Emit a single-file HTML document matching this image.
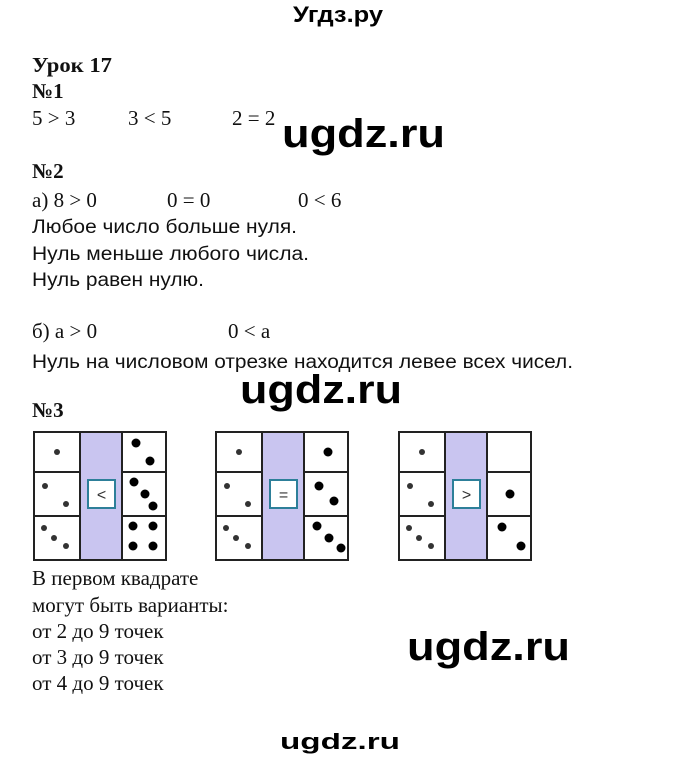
<!DOCTYPE html>
<html><head><meta charset="utf-8"><style>
html,body{margin:0;padding:0;background:#fff;}
svg{display:block}
.s{font-family:"Liberation Serif",serif;font-size:21px;fill:#111}
.b{font-family:"Liberation Serif",serif;font-size:21px;font-weight:bold;fill:#111}
.a{font-family:"Liberation Sans",sans-serif;font-size:19px;fill:#111}
.w{font-family:"Liberation Sans",sans-serif;font-weight:bold;fill:#000}
</style></head><body>
<svg width="680" height="759" viewBox="0 0 680 759" xmlns="http://www.w3.org/2000/svg">
<text x="293" y="22" class="w" font-size="22" textLength="90" lengthAdjust="spacingAndGlyphs">Угдз.ру</text>
<text x="32" y="72" class="b" textLength="80" lengthAdjust="spacingAndGlyphs">Урок 17</text>
<text x="32" y="98" class="b">№1</text>
<text x="32" y="125" class="s">5 &gt; 3</text>
<text x="128" y="125" class="s">3 &lt;  5</text>
<text x="232" y="125" class="s">2 = 2</text>
<text x="282" y="147" class="w" font-size="40" textLength="163" lengthAdjust="spacingAndGlyphs">ugdz.ru</text>
<text x="32" y="178" class="b">№2</text>
<text x="32" y="207" class="s">а) 8 &gt; 0</text>
<text x="167" y="207" class="s">0 = 0</text>
<text x="298" y="207" class="s">0 &lt; 6</text>
<text x="32" y="233" class="a" textLength="265" lengthAdjust="spacingAndGlyphs">Любое число больше нуля.</text>
<text x="32" y="260" class="a" textLength="277" lengthAdjust="spacingAndGlyphs">Нуль меньше любого числа.</text>
<text x="32" y="286" class="a" textLength="172" lengthAdjust="spacingAndGlyphs">Нуль равен нулю.</text>
<text x="32" y="338" class="s">б) a &gt; 0</text>
<text x="228" y="338" class="s">0 &lt; a</text>
<text x="32" y="368" class="a" textLength="541" lengthAdjust="spacingAndGlyphs">Нуль на числовом отрезке находится левее всех чисел.</text>
<text x="240" y="403" class="w" font-size="40" textLength="162" lengthAdjust="spacingAndGlyphs">ugdz.ru</text>
<text x="32" y="417" class="b">№3</text>

<g id="g1">
<rect x="80" y="432" width="42" height="128" fill="#c9c5f0"/>
<g stroke="#222" stroke-width="2" fill="none">
<rect x="34" y="432" width="132" height="128"/>
<line x1="80" y1="432" x2="80" y2="560"/><line x1="122" y1="432" x2="122" y2="560"/>
<line x1="34" y1="472" x2="80" y2="472"/><line x1="34" y1="516" x2="80" y2="516"/>
<line x1="122" y1="472" x2="166" y2="472"/><line x1="122" y1="516" x2="166" y2="516"/>
</g>
<rect x="88" y="480" width="27" height="28" fill="#fff" stroke="#2d7f99" stroke-width="2"/>
<g fill="#333"><circle cx="57" cy="452" r="3"/><circle cx="45" cy="486" r="3"/><circle cx="66" cy="504" r="3"/>
<circle cx="44" cy="528" r="3"/><circle cx="54" cy="538" r="3"/><circle cx="66" cy="546" r="3"/></g>
</g>
<text x="101.5" y="500" text-anchor="middle" font-family="Liberation Sans,sans-serif" font-size="16" fill="#333">&lt;</text>
<g fill="#000"><circle cx="136" cy="443" r="4.5"/><circle cx="150" cy="461" r="4.5"/>
<circle cx="134" cy="482" r="4.5"/><circle cx="145" cy="494" r="4.5"/><circle cx="153" cy="506" r="4.5"/>
<circle cx="133" cy="526" r="4.5"/><circle cx="153" cy="526" r="4.5"/><circle cx="133" cy="546" r="4.5"/><circle cx="153" cy="546" r="4.5"/></g>

<use href="#g1" transform="translate(182,0)"/>
<text x="283.5" y="500" text-anchor="middle" font-family="Liberation Sans,sans-serif" font-size="16" fill="#333">=</text>
<g fill="#000"><circle cx="328" cy="452" r="4.5"/><circle cx="319" cy="486" r="4.5"/><circle cx="334" cy="501" r="4.5"/>
<circle cx="317" cy="526" r="4.5"/><circle cx="329" cy="538" r="4.5"/><circle cx="341" cy="548" r="4.5"/></g>

<use href="#g1" transform="translate(365,0)"/>
<text x="466.5" y="500" text-anchor="middle" font-family="Liberation Sans,sans-serif" font-size="16" fill="#333">&gt;</text>
<g fill="#000"><circle cx="510" cy="494" r="4.5"/><circle cx="502" cy="527" r="4.5"/><circle cx="521" cy="546" r="4.5"/></g>

<text x="32" y="585" class="s">В первом квадрате</text>
<text x="32" y="612" class="s">могут быть варианты:</text>
<text x="32" y="638" class="s">от 2 до 9 точек</text>
<text x="32" y="664" class="s">от 3 до 9 точек</text>
<text x="32" y="690" class="s">от 4 до 9 точек</text>
<text x="407" y="660" class="w" font-size="40" textLength="163" lengthAdjust="spacingAndGlyphs">ugdz.ru</text>
<text x="280" y="749" class="w" font-size="22" textLength="120" lengthAdjust="spacingAndGlyphs">ugdz.ru</text>
</svg>
</body></html>
